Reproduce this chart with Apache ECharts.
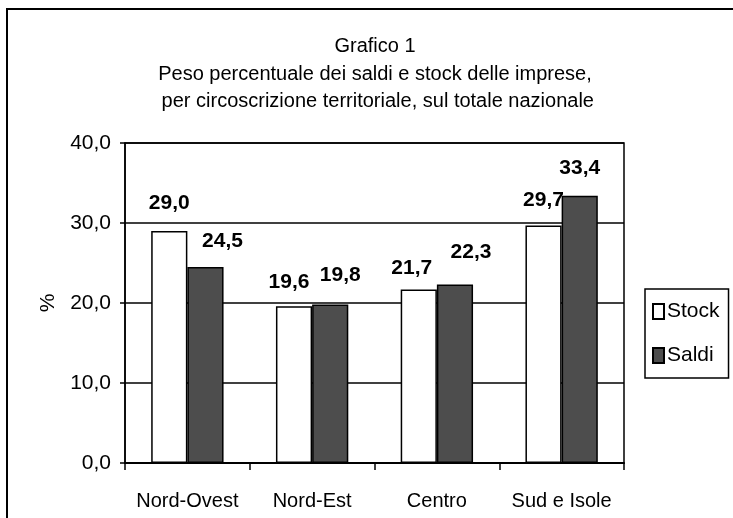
<!DOCTYPE html>
<html>
<head>
    <meta charset="utf-8" />
    <title>Grafico 1</title>
    <script src="https://cdn.jsdelivr.net/npm/echarts@6/dist/echarts.min.js"></script>
    <style>
        body { margin: 0; background: #fff; overflow: hidden; }
    </style>
</head>
<body>
    <div id="main" style="width: 733px; height: 518px;"></div>
    <script type="text/javascript">
        // dati
        var categories = ['Nord-Ovest', 'Nord-Est', 'Centro', 'Sud e Isole'];
        var stock = [29.0, 19.6, 21.7, 29.7];
        var saldi = [24.5, 19.8, 22.3, 33.4];
        var yTicks = [0, 10, 20, 30, 40];

        // spostamento delle etichette (come nel grafico excel)
        var stockLabelShift = [[0, -12], [-5, -8], [-7, -6], [0, -10]];
        var saldiLabelShift = [[17, -10], [10, -14], [16, -17], [0, -12]];

        var font = 'Liberation Sans, Arial, sans-serif';

        function fmt(v) {
            return v.toFixed(1).replace('.', ',');
        }

        function buildData(values, shifts) {
            var out = [];
            for (var i = 0; i < values.length; i++) {
                out.push({ value: values[i], label: { offset: shifts[i] } });
            }
            return out;
        }

        var myChart = echarts.init(document.getElementById('main'));

        var barLabel = {
            show: true,
            position: 'top',
            distance: 5,
            color: '#000',
            fontFamily: font,
            fontSize: 21,
            fontWeight: 'bold',
            formatter: function (p) { return fmt(p.value); }
        };

        var option = {
            animation: false,
            backgroundColor: '#fff',
            title: {
                text: 'Grafico 1\nPeso percentuale dei saldi e stock delle imprese,\n per circoscrizione territoriale, sul totale nazionale',
                left: 370,
                textAlign: 'center',
                top: 28,
                textStyle: {
                    fontFamily: font,
                    fontSize: 20,
                    fontWeight: 'normal',
                    color: '#000',
                    lineHeight: 27.5
                }
            },
            // cornice esterna (solo lato sinistro e superiore visibili)
            graphic: [{
                type: 'polyline',
                shape: { points: [[7, 520], [7, 9], [735, 9]] },
                style: { fill: 'none', stroke: '#000', lineWidth: 2 },
                silent: true
            }],
            legend: {
                orient: 'vertical',
                left: 645,
                top: 289,
                padding: [12, 9, 12, 7],
                borderColor: '#000',
                borderWidth: 1.5,
                itemWidth: 11,
                itemHeight: 15,
                itemGap: 23,
                icon: 'rect',
                textStyle: { fontFamily: font, fontSize: 21, color: '#000', padding: [0, 0, 0, -2] },
                data: ['Stock', 'Saldi']
            },
            grid: {
                left: 125,
                right: 109,
                top: 143,
                bottom: 55,
                show: true,
                borderColor: '#000',
                borderWidth: 1.5,
                backgroundColor: 'transparent'
            },
            xAxis: {
                type: 'category',
                data: categories,
                axisLine: { lineStyle: { color: '#000', width: 2 } },
                axisTick: { show: true, interval: 0, length: 7, lineStyle: { color: '#000', width: 1.5 } },
                axisLabel: { interval: 0, fontFamily: font, fontSize: 20, color: '#000', margin: 28 }
            },
            yAxis: {
                type: 'value',
                min: yTicks[0],
                max: yTicks[yTicks.length - 1],
                interval: 10,
                name: '%',
                nameLocation: 'middle',
                nameRotate: 90,
                nameGap: 66,
                nameTextStyle: { fontFamily: font, fontSize: 21, color: '#000' },
                axisLine: { show: true, lineStyle: { color: '#000', width: 1.5 } },
                axisTick: { show: true, length: 5, lineStyle: { color: '#000', width: 1.5 } },
                axisLabel: {
                    fontFamily: font, fontSize: 21, color: '#000', margin: 14,
                    formatter: function (v) { return fmt(v); }
                },
                splitLine: { lineStyle: { color: '#000', width: 1.5 } }
            },
            series: [
                {
                    name: 'Stock',
                    type: 'bar',
                    barGap: '0%',
                    barCategoryGap: '42%',
                    itemStyle: { color: '#ffffff', borderColor: '#000', borderWidth: 1.5 },
                    label: barLabel,
                    data: buildData(stock, stockLabelShift)
                },
                {
                    name: 'Saldi',
                    type: 'bar',
                    itemStyle: { color: '#4d4d4d', borderColor: '#000', borderWidth: 1.5 },
                    label: barLabel,
                    data: buildData(saldi, saldiLabelShift)
                }
            ]
        };
        myChart.setOption(option);
    </script>
</body>
</html>
